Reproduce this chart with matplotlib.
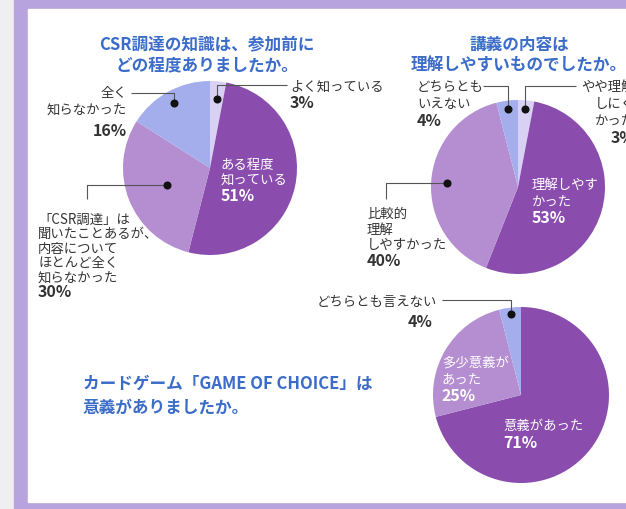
import matplotlib
matplotlib.use("Agg")
import numpy as np
import matplotlib.pyplot as plt
from matplotlib.patches import Rectangle

plt.rcParams['font.family'] = ['Noto Sans CJK JP', 'DejaVu Sans']

W, H = 626, 510

# colours of the slices
DARK = '#8a4dae'
MID = '#b58dd1'
BLUE = '#a4aeec'
PALE = '#d9d1f3'
TITLE_C = '#3b6cc8'
TEXT_C = '#333333'

# chart 1: CSR knowledge before taking part
q1_title = ['CSR調達の知識は、参加前に', 'どの程度ありましたか。']
q1_values = [3, 51, 30, 16]
q1_colors = [PALE, DARK, MID, BLUE]

# chart 2: was the lecture easy to follow
q2_title = ['講義の内容は', '理解しやすいものでしたか。']
q2_values = [3, 53, 40, 4]
q2_colors = [PALE, DARK, MID, BLUE]

# chart 3: was the card game meaningful
q3_title = ['カードゲーム「GAME OF CHOICE」は', '意義がありましたか。']
q3_values = [71, 25, 4]
q3_colors = [DARK, MID, BLUE]


def Y(y):  # pixel row (from top) -> axes y
    return H - y


def block(ax, x, y0, lines, pct, step=15.5, ha='left', color=TEXT_C, pct_gap=None):
    y = y0
    for ln in lines:
        ax.text(x, Y(y), ln, fontsize=9.6, color=color, ha=ha, va='center')
        y += step
    if pct_gap is not None:
        y = y - step + pct_gap
    ax.text(x, Y(y), pct, fontsize=11.5, fontweight='bold', color=color, ha=ha, va='center')


def dot_at(wedge, frac):
    mid = np.radians((wedge.theta1 + wedge.theta2) / 2)
    cx, cy = wedge.center
    return cx + frac * wedge.r * np.cos(mid), cy + frac * wedge.r * np.sin(mid)


def leader(ax, pts):
    xs = [p[0] for p in pts]
    ys = [p[1] for p in pts]
    ax.plot(xs, ys, color='#555555', lw=0.8, solid_capstyle='butt')
    ax.plot(xs[0], ys[0], 'o', color='#111111', ms=4.8)


fig = plt.figure(figsize=(W / 100, H / 100), dpi=100)
fig.patch.set_facecolor('#efeef1')
ax = fig.add_axes([0, 0, 1, 1])

ax.add_patch(Rectangle((14, 0), W - 14, H, color='#b7a3de', zorder=0))
ax.add_patch(Rectangle((28, Y(503)), W - 28, 493, color='white', zorder=0))

wp = dict(linewidth=0)

# ---- chart 1
w1, _ = ax.pie(q1_values, colors=q1_colors, startangle=90, counterclock=False,
               center=(210, Y(169)), radius=87, wedgeprops=wp, frame=True)
for i, ln in enumerate(q1_title):
    ax.text(207, Y(45 + 20 * i), ln, fontsize=12, fontweight='bold', color=TITLE_C,
            ha='center', va='center')

dx, dy = dot_at(w1[0], 0.8)
leader(ax, [(dx, dy), (dx, Y(86)), (287, Y(86))])
block(ax, 290, 87, ['よく知っている'], '3%')

dx, dy = dot_at(w1[3], 0.85)
leader(ax, [(dx, dy), (dx, Y(94)), (131, Y(94))])
block(ax, 127, 93, ['全く', '知らなかった'], '16%', step=17, ha='right', pct_gap=21)

dx, dy = dot_at(w1[2], 0.53)
leader(ax, [(dx, dy), (87, dy), (87, Y(200))])
block(ax, 38, 220, ['「CSR調達」は', '聞いたことあるが、', '内容について',
                    'ほとんど全く', '知らなかった'], '30%', step=14.4)

block(ax, 221, 165, ['ある程度', '知っている'], '51%', step=15.5, color='white')

# ---- chart 2
w2, _ = ax.pie(q2_values, colors=q2_colors, startangle=90, counterclock=False,
               center=(518, Y(188)), radius=87, wedgeprops=wp, frame=True)
for i, ln in enumerate(q2_title):
    ax.text(519, Y(45 + 21 * i), ln, fontsize=12, fontweight='bold', color=TITLE_C,
            ha='center', va='center')

dx, dy = dot_at(w2[3], 0.9)
leader(ax, [(dx, dy), (dx, Y(87)), (483, Y(87))])
block(ax, 417, 87, ['どちらとも', 'いえない'], '4%', step=17)

dx, dy = dot_at(w2[0], 0.9)
leader(ax, [(dx, dy), (dx, Y(87)), (576, Y(87))])
block(ax, 635, 87, ['やや理解', 'しにく', 'かった'], '3%', step=17, ha='right')

dx, dy = dot_at(w2[2], 0.82)
leader(ax, [(dx, dy), (386, dy), (386, Y(200))])
block(ax, 367, 214, ['比較的', '理解', 'しやすかった'], '40%', step=15.5)

block(ax, 532, 185, ['理解しやす', 'かった'], '53%', step=16.5, color='white')

# ---- chart 3
w3, _ = ax.pie(q3_values, colors=q3_colors, startangle=90, counterclock=False,
               center=(521, Y(396)), radius=88, wedgeprops=wp, frame=True)
for i, ln in enumerate(q3_title):
    ax.text(83, Y(384 + 24 * i), ln, fontsize=12, fontweight='bold', color=TITLE_C,
            ha='left', va='center')

dx, dy = dot_at(w3[2], 0.93)
leader(ax, [(dx, dy), (dx, Y(301)), (442, Y(301))])
ax.text(437, Y(302), 'どちらとも言えない', fontsize=9.6, color=TEXT_C, ha='right', va='center')
ax.text(433, Y(322), '4%', fontsize=11.5, fontweight='bold', color=TEXT_C, ha='right', va='center')

block(ax, 442, 363, ['多少意義が', 'あった'], '25%', step=16.5, color='white')
block(ax, 503, 426, ['意義があった'], '71%', step=17.5, color='white')

ax.set_xlim(0, W)
ax.set_ylim(0, H)
ax.set_aspect('auto')
ax.axis('off')

fig.savefig('out.png', dpi=100)
